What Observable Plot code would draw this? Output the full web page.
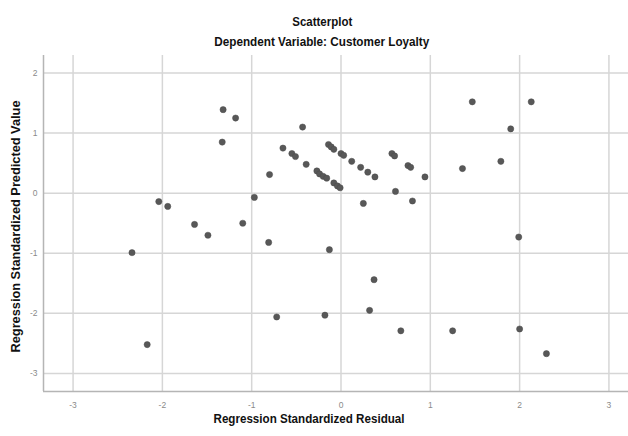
<!DOCTYPE html>
<html>
<head>
<meta charset="utf-8">
<script src="https://cdn.jsdelivr.net/npm/d3@7"></script>
<script src="https://cdn.jsdelivr.net/npm/@observablehq/plot@0.6"></script>
<style>
  html, body { margin: 0; padding: 0; background: #fff; }
  #wrap { width: 628px; height: 436px; overflow: hidden; }
  .ttl { font-family: "Liberation Sans", Arial, sans-serif; font-weight: bold; font-size: 13.5px; color: #111;
         text-align: center; width: 628px; position: relative; left: 8px; height: 20px; line-height: 20px; }
  .ttl span { display: inline-block; white-space: nowrap; transform-origin: 50% 50%; }
  #t1 { padding-top: 12px; }
  svg { display: block; }
</style>
</head>
<body>
<div id="wrap">
  <div class="ttl" id="t1"><span></span></div>
  <div class="ttl" id="t2"><span></span></div>
  <div id="chart"></div>
</div>
<script>
const title = "Scatterplot";
const subtitle = "Dependent Variable: Customer Loyalty";
const xLabel = "Regression Standardized Residual";
const yLabel = "Regression Standardized Predicted Value";
const xTicks = [-3, -2, -1, 0, 1, 2, 3];
const yTicks = [-3, -2, -1, 0, 1, 2];

const residual = [
  -1.32, -1.18, -1.33, -0.43, -0.65, -0.55, -0.51, -0.39, -0.27, -0.24,
  -0.20, -0.16, -0.08, -0.04, -0.01, -0.14, -0.11, -0.08, 0.00, 0.03,
  0.12, 0.22, 0.30, 0.38, 0.57, 0.60, 0.75, 0.78, 0.94, 0.61,
  0.25, 0.80, 1.36, 1.47, 2.13, 1.90, 1.79, -0.80, -0.97, -2.04,
  -1.94, -1.64, -1.49, -1.10, -0.81, -0.13, -2.34, -0.72, -0.18, -2.17,
  1.99, 0.37, 0.32, 0.67, 1.25, 2.00, 2.30
];
const predicted = [
  1.39, 1.25, 0.85, 1.10, 0.75, 0.66, 0.61, 0.48, 0.37, 0.32,
  0.28, 0.25, 0.17, 0.12, 0.09, 0.81, 0.77, 0.73, 0.66, 0.63,
  0.53, 0.43, 0.35, 0.27, 0.66, 0.62, 0.46, 0.43, 0.27, 0.03,
  -0.17, -0.13, 0.41, 1.52, 1.52, 1.07, 0.53, 0.31, -0.07, -0.14,
  -0.22, -0.52, -0.70, -0.50, -0.82, -0.94, -0.99, -2.06, -2.03, -2.52,
  -0.73, -1.44, -1.95, -2.29, -2.29, -2.26, -2.67
];

// titles (HTML, horizontally condensed to match the narrow bold face)
function setTitle(id, txt, targetW) {
  const s = document.querySelector("#" + id + " span");
  s.textContent = txt;
  const w = s.getBoundingClientRect().width;
  s.style.transform = `scaleX(${targetW / w})`;
}
setTitle("t1", title, 60);
setTitle("t2", subtitle, 215);

const pts = residual.map((r, i) => ({r, p: predicted[i]}));
const xDom = [-3.331, 3.219];
const yDom = [-3.300, 2.291];
const font = '"Liberation Sans", Arial, sans-serif';
const fmt = d => String(d).replace("\u2212", "-");

const chart = Plot.plot({
  width: 628,
  height: 384,
  marginLeft: 43,
  marginRight: 0,
  marginTop: 3,
  marginBottom: 45,
  style: {background: "#fff", fontFamily: font},
  x: {domain: xDom, axis: null},
  y: {domain: yDom, axis: null},
  marks: [
    Plot.ruleX(xTicks, {stroke: "#d6d6d6", strokeWidth: 1.5}),
    Plot.ruleY(yTicks, {stroke: "#d6d6d6", strokeWidth: 1.5}),
    Plot.ruleX([xDom[0]], {stroke: "#b5b5b5", strokeWidth: 1.5}),
    Plot.ruleY([yDom[0]], {stroke: "#b5b5b5", strokeWidth: 1.5}),
    Plot.axisX(xTicks, {tickSize: 0, tickPadding: 10, fontSize: 8.5, fill: "#8a8a8a", label: null, tickFormat: fmt}),
    Plot.axisY(yTicks, {tickSize: 0, tickPadding: 6, fontSize: 8.5, fill: "#8a8a8a", label: null, tickFormat: fmt}),
    Plot.dot(pts, {x: "r", y: "p", r: 3.1, fill: "#585858", stroke: "#4a4a4a", strokeWidth: 0.5}),
    Plot.text([xLabel], {frameAnchor: "bottom", textAnchor: "middle", lineAnchor: "middle", dx: -27, dy: 27,
      fontSize: 13.5, fontWeight: "bold", fill: "#111", text: d => d}),
    Plot.text([yLabel], {frameAnchor: "left", textAnchor: "middle", lineAnchor: "middle", dx: -28, dy: 3, rotate: -90,
      fontSize: 13.5, fontWeight: "bold", fill: "#111", text: d => d})
  ]
});
document.getElementById("chart").appendChild(chart);

// condense the axis titles to the reference's narrow bold face
d3.select(chart).selectAll("text")
  .filter(function() { return this.textContent === xLabel; })
  .attr("textLength", 191).attr("lengthAdjust", "spacingAndGlyphs");
d3.select(chart).selectAll("text")
  .filter(function() { return this.textContent === yLabel; })
  .attr("textLength", 252).attr("lengthAdjust", "spacingAndGlyphs");
</script>
</body>
</html>
